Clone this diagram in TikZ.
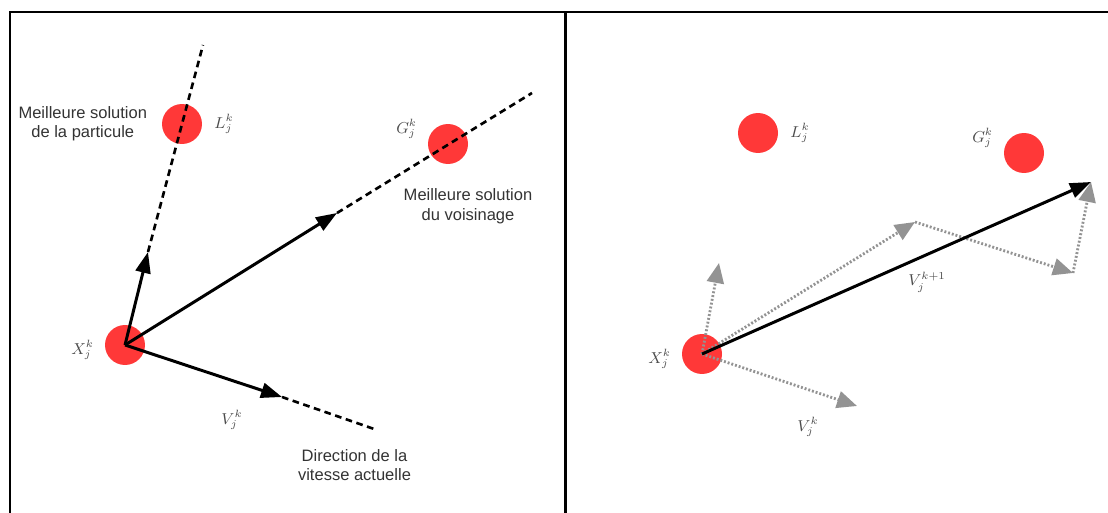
\documentclass[tikz,border=0pt]{standalone}
\usepackage[no-math]{fontspec}
\newfontfamily\txtfont{Liberation Sans}
\usetikzlibrary{arrows.meta,positioning}
\definecolor{ptRed}{HTML}{FF3838}

\begin{document}
\begin{tikzpicture}[x=0.02cm, y=-0.02cm,
    pNode/.style={circle, fill=ptRed, minimum size=0.8cm, inner sep=0pt},
    lbl/.style={inner sep=1pt, text=black!70, font=\fontsize{9}{10}\selectfont},
    txt/.style={inner sep=1pt, align=center, text=black!80, font=\txtfont\fontsize{9.4}{11}\selectfont},
    vArrow/.style={draw, line width=1.7pt, -{Triangle[length=0.42cm, width=0.3cm]}},
    dLine/.style={draw, line width=1.5pt, dash pattern=on 3.8pt off 2.6pt},
    gArrow/.style={draw=gray!85, line width=1.6pt, dash pattern=on 1.1pt off 1.1pt, -{Triangle[length=0.4cm, width=0.34cm]}},
    frameLine/.style={draw, line width=1.7pt}
]
    \useasboundingbox (0,0) rectangle (1108,513);
    % cadre
    \path[frameLine] (10,520) -- (10,12) -- (1120,12);
    \path[frameLine] (565,12) -- (565,520);

    % panneau gauche
    \node[pNode] (X) at (125,345) {};
    \node[pNode] (L) at (182,124) {};
    \node[pNode] (G) at (448,144) {};
    \coordinate (xlTip) at (148,252);
    \coordinate (xlEnd) at (203,45);
    \coordinate (xgTip) at (337,213);
    \coordinate (xgEnd) at (532,93);
    \coordinate (xvTip) at (282,397);
    \coordinate (xvEnd) at (377,430);
    \path[vArrow] (X.center) -- (xlTip);
    \path[vArrow] (X.center) -- (xgTip);
    \path[vArrow] (X.center) -- (xvTip);
    \path[dLine] (xlTip) -- (xlEnd);
    \path[dLine] (xgTip) -- (xgEnd);
    \path[dLine] (xvTip) -- (xvEnd);

    \node[lbl, right=0.2cm of L] (Llbl) {$L_j^k$};
    \node[lbl, left=0.17cm of G, yshift=0.3cm] (Glbl) {$G_j^k$};
    \node[lbl, left=0.17cm of X, yshift=-0.1cm] (Xlbl) {$X_j^k$};
    \node[lbl] (Vlbl) at (232,420) {$V_j^k$};
    \node[txt, left=0.25cm of L] (Ltxt) {Meilleure solution\\de la particule};
    \node[txt, below=0.45cm of G, xshift=0.4cm] (Gtxt) {Meilleure solution\\du voisinage};
    \node[txt, below=0.35cm of xvEnd, xshift=-0.45cm] (Vtxt) {Direction de la\\vitesse actuelle};

    % panneau droit
    \node[pNode] (X2) at (702,354) {};
    \node[pNode] (L2) at (758,133) {};
    \node[pNode] (G2) at (1024,153) {};
    \coordinate (upTip) at (719,263);
    \coordinate (vTip) at (857,406);
    \coordinate (gTip) at (915,222);
    \coordinate (gvTip) at (1073,273);
    \coordinate (newTip) at (1091,182);
    \path[gArrow] (X2.center) -- (upTip);
    \path[gArrow] (X2.center) -- (vTip);
    \path[gArrow] (X2.center) -- (gTip);
    \path[gArrow] (gTip) -- (gvTip);
    \path[gArrow] (gvTip) -- (newTip);
    \path[vArrow] (X2.center) -- (newTip);

    \node[lbl, right=0.2cm of L2] (L2lbl) {$L_j^k$};
    \node[lbl, left=0.17cm of G2, yshift=0.3cm] (G2lbl) {$G_j^k$};
    \node[lbl, left=0.17cm of X2, yshift=-0.1cm] (X2lbl) {$X_j^k$};
    \node[lbl] (V2lbl) at (808,427) {$V_j^k$};
    \node[lbl] (Vnlbl) at (927,282) {$V_j^{k+1}$};
\end{tikzpicture}
\end{document}
